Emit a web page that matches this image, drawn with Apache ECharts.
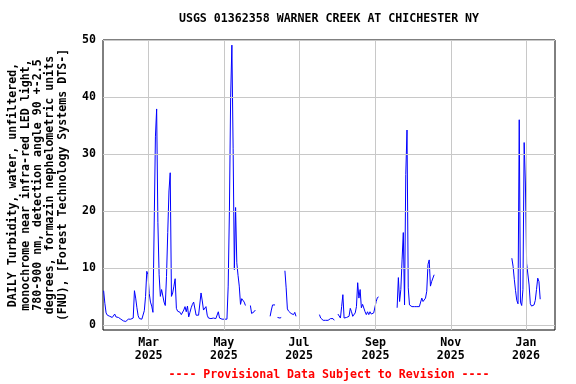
<!DOCTYPE html>
<html>
<head>
<meta charset="utf-8">
<script src="https://cdn.jsdelivr.net/npm/echarts@6/dist/echarts.min.js"></script>
<style>html,body{margin:0;padding:0;background:#fff}#c{width:576px;height:384px}</style>
</head>
<body>
<div id="c"></div>
<script>
// Daily values starting 2025-01-23 (index 0); null = no data
const startYear = 2025, startMonth = 0, startDay = 23;
const turbidity = [
 6.0,3.8,2.1,1.7,1.6,1.5,1.4,1.3,1.4,1.9, 1.4,1.6,1.3,1.2,1.0,0.8,0.7,0.6,0.6,0.7,
 1.0,1.3,1.0,1.3,1.2,6.0,4.7,3.0,1.6,1.1, 1.0,1.0,1.2,2.5,5.0,9.4,8.8,5.5,4.0,3.3,
 2.2,1.9,33.0,37.9,18.0,8.8,5.0,6.2,6.3,4.0, 3.4,8.5,16.2,23.5,26.7,5.0,5.6,6.8,8.1,2.9,
 2.4,2.2,2.2,1.8,1.8,2.6,3.2,2.3,3.3,1.4, 2.2,3.0,3.6,4.0,4.2,1.7,1.7,1.7,1.7,5.6,
 4.2,2.6,2.9,3.2,1.7,1.2,1.2,1.1,1.2,1.2, 1.2,1.1,1.2,2.3,1.2,1.0,1.0,1.0,1.0,0.9,
 1.0,6.8,20.0,40.0,49.1,31.0,9.7,20.6,10.9,8.7, 6.8,3.6,4.6,4.5,4.0,3.4,null,null,null,3.4,
 2.0,2.3,2.3,2.6,null,null,null,null,null,null, null,null,null,null,null,1.5,2.6,3.5,3.4,3.5,
 null,1.3,1.5,1.2,1.3,null,null,9.5,6.5,2.8, 2.4,2.2,2.0,2.1,1.8,2.2,1.5,null,null,null,
 null,null,null,null,null,null,null,null,null,null, null,null,null,null,null,1.8,1.2,0.9,0.8,0.9,
 0.8,1.0,0.8,0.9,1.1,0.8,1.1,0.8,null,null, 1.9,1.6,1.2,3.2,5.3,1.2,1.3,1.3,1.3,1.5,
 2.9,2.3,1.5,1.8,2.1,3.2,7.4,4.7,6.2,3.0, 3.6,3.4,2.3,1.8,2.3,1.8,2.3,1.9,1.8,2.1,
 2.3,4.1,4.8,4.9,null,null,null,null,null,null, null,null,null,null,null,null,null,null,3.0,8.3,
 4.1,6.2,11.4,16.2,3.5,26.4,34.2,6.5,3.5,3.2, 3.2,3.2,3.2,3.2,3.2,3.2,3.2,3.3,4.7,4.1,
 4.4,4.7,5.9,10.6,11.4,6.8,7.6,7.9,8.8,null, null,null,null,null,null,null,null,null,null,null,
 null,null,null,null,null,null,null,null,null,null, null,null,null,null,null,null,null,null,null,null,
 null,null,null,null,null,null,null,null,null,null, null,null,null,null,null,null,null,null,null,null,
 null,null,null,null,null,null,null,null,null,null, null,11.7,10.3,8.0,6.0,4.3,3.7,36.0,4.0,3.4,
 6.2,32.0,24.9,10.8,10.5,7.0,3.7,3.3,3.1,3.5, 4.3,6.2,8.2,7.6,4.5
];
const yTicks = [0,10,20,30,40,50];
const xTickMonths = [[2025,2],[2025,4],[2025,6],[2025,8],[2025,10],[2026,0]];
const xTickLabels = ['Mar\n2025','May\n2025','Jul\n2025','Sep\n2025','Nov\n2025','Jan\n2026'];
const titleText = 'USGS 01362358 WARNER CREEK AT CHICHESTER NY';
const yTitle = 'DAILY Turbidity, water, unfiltered,\nmonochrome near infra-red LED light,\n780-900 nm, detection angle 90 +-2.5\ndegrees, formazin nephelometric units\n(FNU), [Forest Technology Systems DTS-]';
const footText = '---- Provisional Data Subject to Revision ----';

const seriesData = turbidity.map((v,i)=>[new Date(startYear,startMonth,startDay+i,12).getTime(), v]);
const xTicks = xTickMonths.map(m=>new Date(m[0],m[1],1).getTime());
const FONT = 'DejaVu Sans Mono';
const chart = echarts.init(document.getElementById('c'), null, {renderer:'canvas'});
const gridColor = '#c8c8c8';
chart.setOption({
  animation:false,
  backgroundColor:'#fff',
  grid:{left:103,right:21,top:40,bottom:54,show:true,borderColor:'#000',borderWidth:1,backgroundColor:'transparent'},
  xAxis:{
    type:'value',
    min:new Date(2025,0,23).getTime(),
    max:new Date(2026,0,24,12).getTime(),
    axisLine:{show:false}, axisTick:{show:false}, splitLine:{show:false},
    axisLabel:{
      customValues:xTicks,
      formatter:function(v){const i=xTicks.indexOf(v); return i>=0?xTickLabels[i]:'';},
      color:'#000',fontFamily:FONT,fontWeight:'bold',fontSize:11.6,lineHeight:12.5,margin:7
    }
  },
  yAxis:{
    type:'value',min:-0.9,max:50,
    axisLine:{show:false}, axisTick:{show:false}, splitLine:{show:false},
    axisLabel:{customValues:yTicks,color:'#000',fontFamily:FONT,fontWeight:'bold',fontSize:11.6,margin:7}
  },
  series:[
    {type:'line',data:[],z:1,silent:true,
     markLine:{silent:true,symbol:['none','none'],label:{show:false},animation:false,
       lineStyle:{color:gridColor,type:'solid',width:1},
       data:yTicks.map(v=>({yAxis:v})).concat(xTicks.map(t=>({xAxis:t})))}},
    {type:'line',data:seriesData,z:3,showSymbol:false,connectNulls:false,
     lineStyle:{color:'#0000ff',width:1},itemStyle:{color:'#0000ff'}}
  ],
  graphic:[
    {type:'text',style:{text:titleText,x:329,y:19,align:'center',verticalAlign:'middle',
      fill:'#000',font:'bold 11.6px "DejaVu Sans Mono"'}},
    {type:'text',x:38,y:185,rotation:Math.PI/2,style:{text:yTitle,x:0,y:0,align:'center',verticalAlign:'middle',
      fill:'#000',font:'bold 11.6px "DejaVu Sans Mono"',lineHeight:12.4}},
    {type:'text',style:{text:footText,x:329,y:375,align:'center',verticalAlign:'middle',
      fill:'#ff0000',font:'bold 11.6px "DejaVu Sans Mono"'}}
  ]
});
</script>
</body>
</html>
